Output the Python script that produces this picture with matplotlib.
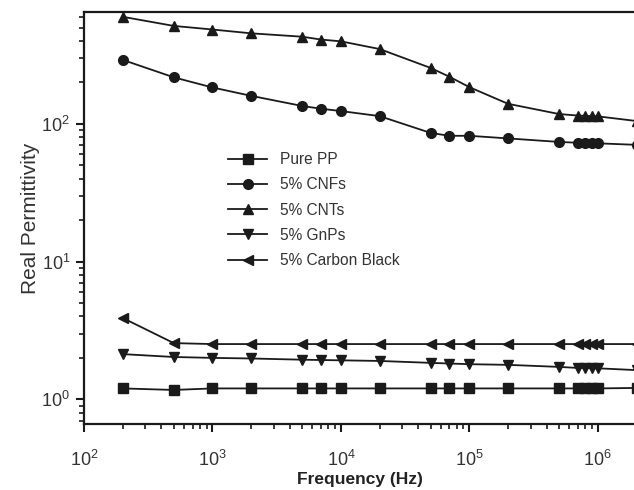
import matplotlib
matplotlib.use("Agg")
import matplotlib.pyplot as plt
from matplotlib.ticker import LogLocator, NullFormatter

plt.rcParams['font.family'] = ['Liberation Sans', 'DejaVu Sans']
plt.rcParams['mathtext.fontset'] = 'custom'
plt.rcParams['mathtext.rm'] = 'Liberation Sans'
plt.rcParams['mathtext.it'] = 'Liberation Sans'
plt.rcParams['mathtext.bf'] = 'Liberation Sans:bold'

freq = [200, 500, 1e3, 2e3, 5e3, 7e3, 1e4, 2e4, 5e4, 7e4, 1e5, 2e5,
        5e5, 7e5, 8e5, 9e5, 1e6, 2e6]

pure_pp = [1.20, 1.17, 1.20, 1.20, 1.20, 1.20, 1.20, 1.20, 1.20, 1.20, 1.20,
           1.20, 1.20, 1.20, 1.20, 1.20, 1.20, 1.21]
cnfs = [292, 218, 184, 160, 135, 129, 124, 114, 86, 82, 82, 78.5,
        74, 73, 72.8, 72.5, 72.3, 70.5]
cnts = [600, 515, 485, 455, 430, 410, 398, 350, 255, 220, 185, 140,
        118, 115, 114.5, 114, 113.5, 105]
gnps = [2.13, 2.03, 2.00, 1.98, 1.94, 1.93, 1.92, 1.90, 1.84, 1.82, 1.80, 1.78,
        1.72, 1.69, 1.69, 1.68, 1.68, 1.63]
carbon_black = [3.9, 2.56, 2.52, 2.52, 2.52, 2.52, 2.52, 2.52, 2.52, 2.52, 2.52,
                2.52, 2.52, 2.52, 2.52, 2.52, 2.52, 2.52]

labels = ['Pure PP', '5% CNFs', '5% CNTs', '5% GnPs', '5% Carbon Black']
series = [pure_pp, cnfs, cnts, gnps, carbon_black]
markers = ['s', 'o', '^', 'v', '<']

fig = plt.figure(figsize=(6.34, 4.90), dpi=100)
ax = fig.add_axes([84/634, (490-424)/490, (636.5-84)/634, 412/490])

for ys, lab, m in zip(series, labels, markers):
    ax.plot(freq, ys, color='#1a1a1a', lw=1.3, marker=m, ms=7, label=lab,
            clip_on=False)

ax.set_xscale('log')
ax.set_yscale('log')
ax.set_xlim(100, 2e6)
ax.set_ylim(0.662, 650)

ax.xaxis.set_major_locator(LogLocator(base=10, numticks=10))
ax.xaxis.set_minor_locator(LogLocator(base=10, subs=range(2, 10), numticks=20))
ax.yaxis.set_major_locator(LogLocator(base=10, numticks=10))
ax.yaxis.set_minor_locator(LogLocator(base=10, subs=range(2, 10), numticks=20))
ax.xaxis.set_minor_formatter(NullFormatter())
ax.yaxis.set_minor_formatter(NullFormatter())

ax.tick_params(which='major', direction='out', length=6, width=1.5,
               labelsize=13, color='#1a1a1a', labelcolor='#333333')
ax.tick_params(which='minor', direction='out', length=3.5, width=1.2,
               color='#1a1a1a')
ax.tick_params(axis='x', which='major', pad=13)
ax.tick_params(axis='y', which='major', pad=4)
ax.tick_params(top=False, right=False, which='both')

for s in ax.spines.values():
    s.set_linewidth(1.6)
    s.set_color('#1a1a1a')

ax.set_xlabel('Frequency (Hz)', fontsize=12.5, fontweight='bold', color='#222222',
              labelpad=1)
ax.set_ylabel('Real Permittivity', fontsize=15, color='#333333', labelpad=1)

leg = ax.legend(loc='upper left', bbox_to_anchor=(0.25, 0.675), frameon=False,
                fontsize=11.2, handlelength=2.5, handletextpad=0.8,
                labelspacing=0.66, borderaxespad=0)
for t in leg.get_texts():
    t.set_color('#333333')

fig.savefig('out.png', dpi=100)
